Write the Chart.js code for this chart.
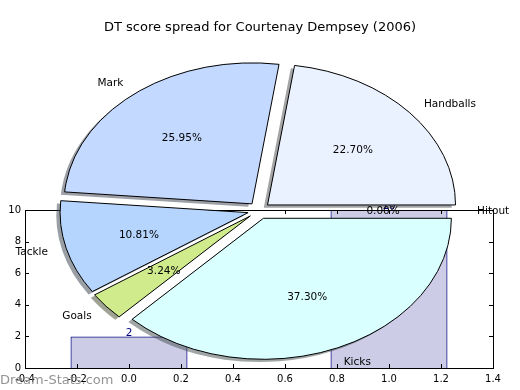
<!DOCTYPE html>
<html>
<head>
<meta charset="utf-8">
<script src="https://cdn.jsdelivr.net/npm/chart.js@4.4.0/dist/chart.umd.min.js"></script>
<style>
  html, body { margin: 0; padding: 0; background: #fff; }
  #wrap { position: relative; width: 520px; height: 390px; }
  #wrap canvas { position: absolute; left: 0; top: 0; }
</style>
</head>
<body>
<div id="wrap">
  <canvas id="bars" width="520" height="390"></canvas>
  <canvas id="pie" width="520" height="390"></canvas>
</div>
<script>
const chartTitle = 'DT score spread for Courtenay Dempsey (2006)';
const watermark = 'Dream-Stats.com';

// pie: DT points per stat
const statNames = ['Handballs', 'Mark', 'Tackle', 'Goals', 'Kicks', 'Hitout'];
const statPoints = [420, 480, 200, 60, 690, 0];
const sliceColors = ['#ebf2ff', '#c4d9ff', '#b5d5ff', '#cfeb8c', '#d9ffff', '#ffffff'];

// bars behind the pie
const barX = [0, 1];
const barValues = [2, 10];
const barWidth = 0.45;

const xTickValues = [-0.4, -0.2, 0.0, 0.2, 0.4, 0.6, 0.8, 1.0, 1.2, 1.4];
const xTickLabels = ['-0.4', '-0.2', '0.0', '0.2', '0.4', '0.6', '0.8', '1.0', '1.2', '1.4'];
const yTickValues = [0, 2, 4, 6, 8, 10];
const yTickLabels = ['0', '2', '4', '6', '8', '10'];

Chart.defaults.font.family = 'DejaVu Sans';
Chart.defaults.font.size = 10;
Chart.defaults.color = '#000';

// frame + inward ticks like matplotlib
const frameTicks = {
  id: 'frameTicks',
  afterDraw(chart) {
    const { ctx, chartArea: a, scales } = chart;
    ctx.save();
    ctx.strokeStyle = '#000';
    ctx.lineWidth = 1;
    ctx.strokeRect(a.left + 0.5, a.top + 0.5, a.right - a.left, a.bottom - a.top);
    ctx.beginPath();
    xTickValues.forEach(v => {
      const px = Math.round(scales.x.getPixelForValue(v)) + 0.5;
      ctx.moveTo(px, a.bottom); ctx.lineTo(px, a.bottom - 4);
      ctx.moveTo(px, a.top); ctx.lineTo(px, a.top + 4);
    });
    yTickValues.forEach(v => {
      const py = Math.round(scales.y.getPixelForValue(v)) + 0.5;
      ctx.moveTo(a.left, py); ctx.lineTo(a.left + 4, py);
      ctx.moveTo(a.right, py); ctx.lineTo(a.right - 4, py);
    });
    ctx.stroke();
    ctx.restore();
  }
};

const barLabels = {
  id: 'barLabels',
  afterDatasetsDraw(chart) {
    const { ctx } = chart;
    ctx.save();
    ctx.fillStyle = 'navy';
    ctx.font = '10.5px DejaVu Sans';
    ctx.textAlign = 'center';
    ctx.textBaseline = 'bottom';
    chart.getDatasetMeta(0).data.forEach((bar, i) => {
      ctx.fillText(String(barValues[i]), bar.x, bar.y + 2);
    });
    ctx.restore();
  }
};

new Chart(document.getElementById('bars'), {
  type: 'bar',
  data: {
    datasets: [{
      data: barX.map((x, i) => ({ x: x, y: barValues[i] })),
      backgroundColor: 'rgba(0,0,128,0.2)',
      borderColor: 'navy',
      borderWidth: 1,
      categoryPercentage: 1,
      barPercentage: barWidth / 0.2
    }]
  },
  options: {
    responsive: false,
    animation: false,
    devicePixelRatio: 1,
    layout: { padding: { top: 210, right: 27, left: 0, bottom: 0 } },
    plugins: { legend: { display: false }, tooltip: { enabled: false } },
    scales: {
      x: {
        type: 'linear', offset: false, min: -0.4, max: 1.4,
        grid: { display: false, drawTicks: false },
        border: { display: false },
        afterBuildTicks: s => { s.ticks = xTickValues.map(v => ({ value: v })); },
        ticks: { padding: 5, maxRotation: 0, callback: (v, i) => xTickLabels[i] },
        afterFit: s => { s.height = 22; }
      },
      y: {
        min: 0, max: 10,
        grid: { display: false, drawTicks: false },
        border: { display: false },
        afterBuildTicks: s => { s.ticks = yTickValues.map(v => ({ value: v })); },
        ticks: { padding: 4, callback: (v, i) => yTickLabels[i] },
        afterFit: s => { s.width = 25; }
      }
    }
  },
  plugins: [barLabels, frameTicks]
});

// elliptical, exploded pie with shadows (matplotlib look)
const pieGeom = { cx: 259, cy: 210.5, rx: 188, ry: 141, explode: 0.06, shadow: 0.02, pct: 0.6, label: 1.1 };

function arcTransform(ctx, arc, dx, dy) {
  const g = pieGeom, R = arc.outerRadius, mid = (arc.startAngle + arc.endAngle) / 2;
  ctx.translate(g.cx + dx, g.cy + dy);
  ctx.scale(g.rx / R, -g.ry / R);
  ctx.translate(Math.cos(mid) * g.explode * R - arc.x, Math.sin(mid) * g.explode * R - arc.y);
}

const ellipsePie = {
  id: 'ellipsePie',
  beforeDatasetsDraw(chart) {
    const { ctx } = chart;
    const arcs = chart.getDatasetMeta(0).data;
    const g = pieGeom;
    const sdx = -g.shadow * g.rx, sdy = g.shadow * g.ry;
    // shadows
    arcs.forEach((arc, i) => {
      const c = Chart.helpers.color(sliceColors[i]).rgb;
      const o = arc.options;
      arc.options = Object.assign({}, o, {
        backgroundColor: `rgba(${c.r * 0.3},${c.g * 0.3},${c.b * 0.3},0.5)`,
        borderWidth: 0
      });
      ctx.save();
      arcTransform(ctx, arc, sdx, sdy);
      arc.draw(ctx);
      ctx.restore();
      arc.options = o;
    });
    // wedges
    arcs.forEach(arc => {
      ctx.save();
      arcTransform(ctx, arc, 0, 0);
      arc.draw(ctx);
      ctx.restore();
    });
    // edges in screen space so line width stays even
    arcs.forEach(arc => {
      ctx.save();
      arcTransform(ctx, arc, 0, 0);
      ctx.beginPath();
      ctx.moveTo(arc.x, arc.y);
      ctx.arc(arc.x, arc.y, arc.outerRadius, arc.startAngle, arc.endAngle);
      ctx.closePath();
      ctx.restore();
      ctx.save();
      ctx.strokeStyle = '#000';
      ctx.lineWidth = 1;
      ctx.stroke();
      ctx.restore();
    });
    return false;
  },
  afterDraw(chart) {
    const { ctx } = chart;
    const g = pieGeom;
    const total = statPoints.reduce((a, b) => a + b, 0);
    ctx.save();
    ctx.fillStyle = '#000';
    ctx.textBaseline = 'middle';
    chart.getDatasetMeta(0).data.forEach((arc, i) => {
      const mid = (arc.startAngle + arc.endAngle) / 2;
      const c = Math.cos(mid), s = Math.sin(mid);
      const fp = g.explode + g.pct, fl = g.explode + g.label;
      ctx.font = '10.5px DejaVu Sans';
      ctx.textAlign = 'center';
      ctx.fillText((statPoints[i] / total * 100).toFixed(2) + '%',
        g.cx + g.rx * fp * c, g.cy + 1 - g.ry * fp * s);
      ctx.textAlign = c > 0 ? 'left' : 'right';
      ctx.fillText(statNames[i], g.cx + g.rx * fl * c, g.cy + 1 - g.ry * fl * s);
    });
    ctx.fillStyle = 'rgba(120,120,120,0.8)';
    ctx.font = '13px DejaVu Sans';
    ctx.textAlign = 'left';
    ctx.textBaseline = 'alphabetic';
    ctx.fillText(watermark, 0, 384);
    ctx.restore();
  }
};

new Chart(document.getElementById('pie'), {
  type: 'pie',
  data: {
    labels: statNames,
    datasets: [{ data: statPoints, backgroundColor: sliceColors, borderWidth: 0 }]
  },
  options: {
    responsive: false,
    animation: false,
    devicePixelRatio: 1,
    rotation: 90,
    radius: 100,
    plugins: {
      legend: { display: false },
      tooltip: { enabled: false },
      title: {
        display: true, text: chartTitle, color: '#000',
        font: { size: 13, weight: 'normal', family: 'DejaVu Sans' },
        padding: { top: 20, bottom: 10 }
      }
    }
  },
  plugins: [ellipsePie]
});
</script>
</body>
</html>
